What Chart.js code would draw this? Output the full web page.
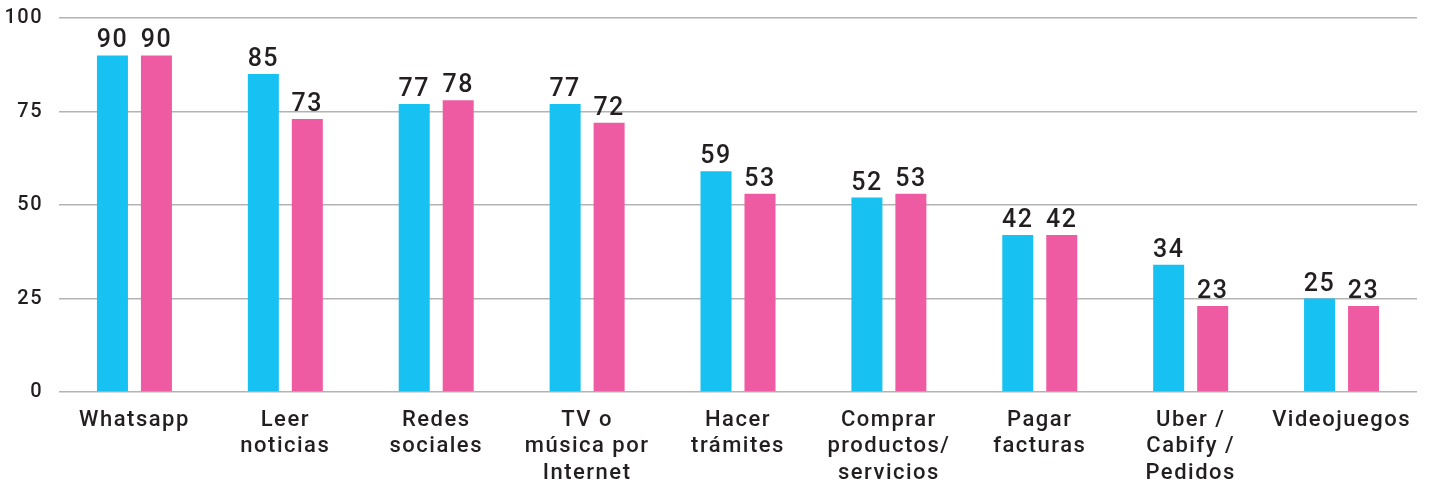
<!DOCTYPE html>
<html lang="es">
<head>
    <meta charset="UTF-8">
    <title>Uso de internet</title>
    <script src="https://cdn.jsdelivr.net/npm/chart.js"></script>
    <style>
        body { margin: 0; background: #fff; }
    </style>
</head>
<body>
    <canvas id="graph" width="1432" height="488"></canvas>

    <script>
        // categorias (etiquetas en varias lineas)
        const categorias = [
            ['Whatsapp'],
            ['Leer', 'noticias'],
            ['Redes', 'sociales'],
            ['TV o', 'música por', 'Internet'],
            ['Hacer', 'trámites'],
            ['Comprar', 'productos/', 'servicios'],
            ['Pagar', 'facturas'],
            ['Uber /', 'Cabify /', 'Pedidos'],
            ['Videojuegos']
        ];
        const serieCeleste = [90, 85, 77, 77, 59, 52, 42, 34, 25];
        const serieRosa = [90, 73, 78, 72, 53, 53, 42, 23, 23];
        const ticksY = [0, 25, 50, 75, 100];

        const colorTexto = '#231f20';
        const fuente = 'Roboto, "Noto Sans", sans-serif';

        // etiquetas de valor arriba de cada barra
        const etiquetasValor = {
            id: 'etiquetasValor',
            beforeDraw(chart) {
                chart.ctx.letterSpacing = '1.5px';
            },
            afterDatasetsDraw(chart) {
                const ctx = chart.ctx;
                ctx.save();
                ctx.font = '500 25px ' + fuente;
                ctx.fillStyle = colorTexto;
                ctx.textAlign = 'center';
                ctx.textBaseline = 'alphabetic';
                chart.data.datasets.forEach((ds, i) => {
                    chart.getDatasetMeta(i).data.forEach((bar, j) => {
                        ctx.fillText(ds.data[j], bar.x, bar.y - 8);
                    });
                });
                ctx.restore();
            }
        };

        new Chart(document.getElementById('graph').getContext('2d'), {
            type: 'bar',
            data: {
                labels: categorias,
                datasets: [
                    { data: serieCeleste, backgroundColor: '#17c1f1' },
                    { data: serieRosa, backgroundColor: '#ef5ba2' }
                ]
            },
            options: {
                responsive: false,
                animation: false,
                categoryPercentage: 0.583,
                barPercentage: 0.705,
                layout: { padding: { top: 18, right: 15, left: 0, bottom: 0 } },
                plugins: {
                    legend: { display: false },
                    tooltip: { enabled: false }
                },
                scales: {
                    x: {
                        grid: { display: false, drawTicks: false },
                        border: { display: false },
                        ticks: {
                            color: colorTexto,
                            font: { family: fuente, size: 22, weight: 500, lineHeight: 1.2 },
                            padding: 15,
                            maxRotation: 0,
                            autoSkip: false
                        },
                        afterFit(scale) {
                            scale.height = 96;
                            scale.paddingLeft = 0;
                            scale.paddingRight = 0;
                        }
                    },
                    y: {
                        min: 0,
                        max: 100,
                        afterBuildTicks(scale) {
                            scale.ticks = ticksY.map(v => ({ value: v }));
                        },
                        grid: { color: '#b3b3b3', lineWidth: 1.5, drawTicks: false },
                        border: { display: false },
                        ticks: {
                            color: colorTexto,
                            font: { family: fuente, size: 20, weight: 500 },
                            padding: 16
                        },
                        afterFit(scale) {
                            scale.width = 59;
                            scale.paddingTop = 0;
                            scale.paddingBottom = 0;
                        }
                    }
                }
            },
            plugins: [etiquetasValor]
        });
    </script>
</body>
</html>
